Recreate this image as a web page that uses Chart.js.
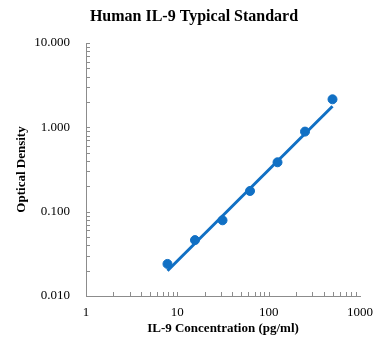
<!DOCTYPE html>
<html>
<head>
<meta charset="utf-8">
<script src="https://cdn.jsdelivr.net/npm/chart.js@4"></script>
<style>
  html, body { margin: 0; padding: 0; background: #fff; }
  #wrap { width: 388px; height: 350px; }
</style>
</head>
<body>
<div id="wrap"><canvas id="stdCurve"></canvas></div>
<script>
// Standard points (pg/ml vs OD)
const concentrations = [7.8, 15.6, 31.25, 62.5, 125, 250, 500];
const odValues = [0.024, 0.046, 0.079, 0.176, 0.385, 0.89, 2.15];

// Power trendline end points
const trendX = [7.8, 500];
const trendY = [0.0199, 1.78];

// Tick labels
const xTicks = [1, 10, 100, 1000];
const yTicks = [0.01, 0.1, 1, 10];

const blue = '#1170c4';
const axisGrey = '#8c8c8c';
const serif = "'Liberation Serif', 'Times New Roman', serif";

// Draws the small inside tick marks that Excel puts on log axes
const insideTicks = {
    id: 'insideTicks',
    afterDraw(chart) {
        const ctx = chart.ctx;
        const x = chart.scales.x;
        const y = chart.scales.y;
        const len = 4;
        ctx.save();
        ctx.strokeStyle = axisGrey;
        ctx.lineWidth = 1;
        ctx.beginPath();
        for (let d = x.min; d < x.max; d *= 10) {
            for (let k = 1; k < 10; k++) {
                const px = Math.round(x.getPixelForValue(d * k)) + 0.5;
                ctx.moveTo(px, x.top);
                ctx.lineTo(px, x.top - len);
            }
        }
        for (let d = y.min; d < y.max; d *= 10) {
            for (let k = 1; k <= 10; k++) {
                const py = Math.round(y.getPixelForValue(d * k)) + 0.5;
                ctx.moveTo(y.right, py);
                ctx.lineTo(y.right + len, py);
            }
        }
        ctx.stroke();
        ctx.restore();
    }
};

function initializeChart() {

    const ctx = document.getElementById('stdCurve').getContext('2d');

    new Chart(ctx, {
        type: 'scatter',
        data: {
            datasets: [{
                label: 'Standard',
                data: concentrations.map((c, i) => ({ x: c, y: odValues[i] })),
                backgroundColor: blue,
                borderColor: blue,
                pointRadius: 4.5,
                pointHoverRadius: 4.5,
                order: 1
            }, {
                label: 'Trend',
                type: 'line',
                data: trendX.map((c, i) => ({ x: c, y: trendY[i] })),
                borderColor: blue,
                borderWidth: 3,
                pointRadius: 0,
                fill: false,
                order: 2
            }]
        },
        options: {
            responsive: true,
            maintainAspectRatio: false,
            animation: false,
            layout: { padding: 0 },
            plugins: {
                legend: { display: false },
                tooltip: { enabled: false },
                title: {
                    display: true,
                    text: 'Human IL-9 Typical Standard',
                    color: '#000',
                    font: { family: serif, size: 16, weight: 'bold' },
                    padding: { top: 7, bottom: 16.8 }
                }
            },
            scales: {
                x: {
                    type: 'logarithmic',
                    min: 1,
                    max: 1000,
                    afterBuildTicks: scale => { scale.ticks = xTicks.map(v => ({ value: v })); },
                    afterFit: scale => { scale.height = 54; },
                    grid: { display: false, drawTicks: false },
                    border: { display: true, color: axisGrey, width: 1 },
                    ticks: {
                        color: '#000',
                        padding: 9,
                        maxRotation: 0,
                        font: { family: serif, size: 13 },
                        callback: v => String(v)
                    },
                    title: {
                        display: true,
                        text: 'IL-9 Concentration (pg/ml)',
                        color: '#000',
                        font: { family: serif, size: 13, weight: 'bold' },
                        padding: { top: 0, bottom: 14 }
                    }
                },
                y: {
                    type: 'logarithmic',
                    min: 0.01,
                    max: 10,
                    afterBuildTicks: scale => { scale.ticks = yTicks.map(v => ({ value: v })); },
                    afterFit: scale => { scale.width = 86; },
                    grid: { display: false, drawTicks: false },
                    border: { display: true, color: axisGrey, width: 1 },
                    ticks: {
                        color: '#000',
                        padding: 16,
                        font: { family: serif, size: 13 },
                        callback: v => Number(v).toFixed(3)
                    },
                    title: {
                        display: true,
                        text: 'Optical Density',
                        color: '#000',
                        font: { family: serif, size: 13, weight: 'bold' },
                        padding: { top: 14, bottom: 0 }
                    }
                },
                // empty right-hand strip so the title centres on the whole canvas
                spacer: {
                    type: 'linear',
                    position: 'right',
                    afterFit: scale => { scale.width = 28; },
                    grid: { display: false, drawTicks: false },
                    border: { display: false },
                    ticks: { display: false }
                }
            }
        },
        plugins: [insideTicks]
    });
}

window.onload = function () {
    initializeChart();
};
</script>
</body>
</html>
